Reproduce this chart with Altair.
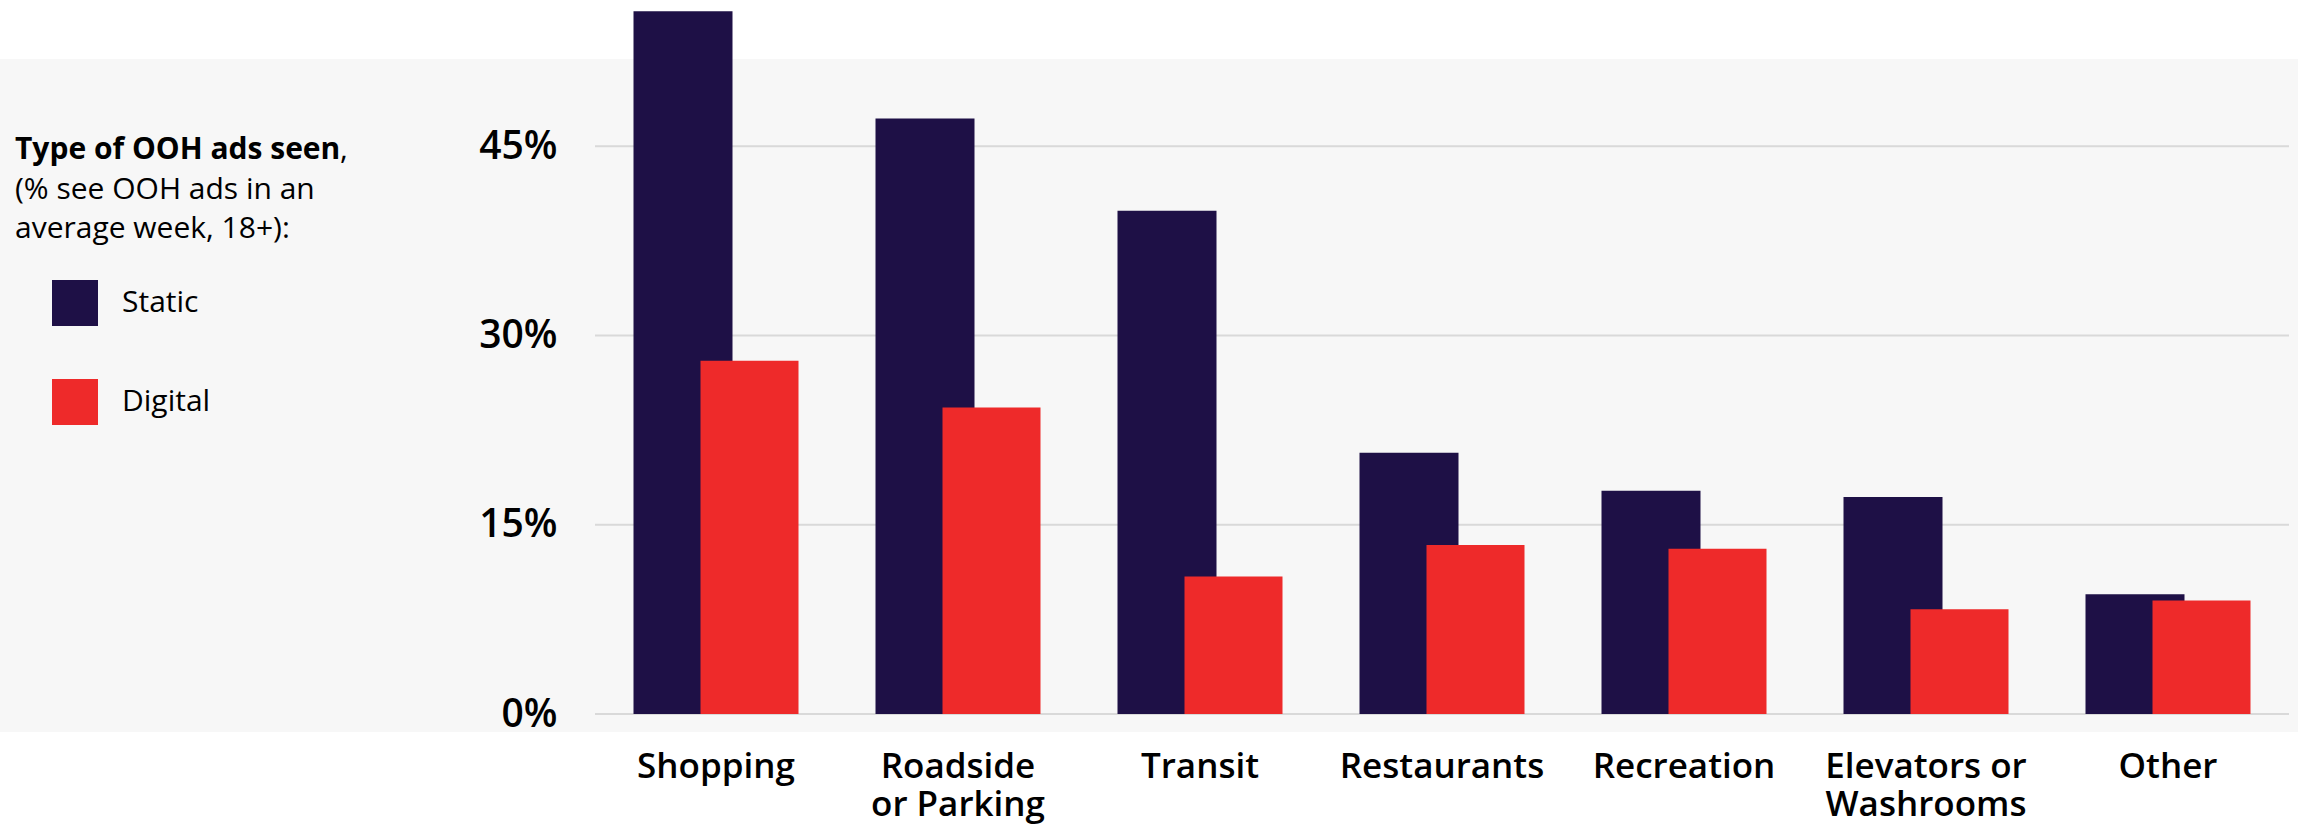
import altair as alt
import pandas as pd

categories = ["Shopping", "Roadside|or Parking", "Transit", "Restaurants",
              "Recreation", "Elevators or|Washrooms", "Other"]
static_vals = [55.7, 47.2, 39.9, 20.7, 17.7, 17.2, 9.5]
digital_vals = [28.0, 24.3, 10.9, 13.4, 13.1, 8.3, 9.0]
series = ["Static", "Digital"]
colors = ["#1E1046", "#EE2A2A"]
y_ticks = [0, 15, 30, 45]
title_bold = "Type of OOH ads seen"
title_lines = ["(% see OOH ads in an", "average week, 18+):"]

FONT = "Open Sans"
W, H = 1694, 714
LEFT = 595

rows = []
for c, s, d in zip(categories, static_vals, digital_vals):
    rows.append({"category": c, "type": "Static", "value": s})
    rows.append({"category": c, "type": "Digital", "value": d})
df = pd.DataFrame(rows)
ticks_df = pd.DataFrame({"value": y_ticks})

yscale = alt.Scale(domain=[0, 56.6], nice=False, zero=True)
xscale = alt.Scale(domain=categories, paddingInner=0, paddingOuter=0)
cscale = alt.Scale(domain=series, range=colors)

yaxis = alt.Axis(values=y_ticks, title=None, grid=False, domain=False,
                 ticks=False, labelExpr="datum.value + '%'",
                 labelFontSize=39, labelFontWeight=600, labelFont=FONT,
                 labelColor="#000000", labelPadding=38, zindex=1)

bg = alt.Chart(pd.DataFrame({"a": [0]})).mark_rect(color="#F7F7F7").encode(
    x=alt.value(-LEFT), x2=alt.value(W + 20), y=alt.value(59), y2=alt.value(732)
)

grid = alt.Chart(ticks_df).mark_rule(color="#D9D9D9", strokeWidth=2).encode(
    y=alt.Y("value:Q", scale=yscale, axis=yaxis),
    x=alt.value(0), x2=alt.value(W)
)

legend = alt.Legend(orient="none", legendX=52 - LEFT, legendY=280, title=None,
                    symbolType="square", symbolSize=2116, symbolStrokeWidth=0,
                    symbolOpacity=1, labelFontSize=30, labelFont=FONT,
                    labelColor="#000000", labelOffset=24, rowPadding=53,
                    padding=0, direction="vertical", zindex=1)

def bars(kind, width, offset):
    return alt.Chart(df).transform_filter(alt.datum.type == kind).mark_bar(
        width=width, xOffset=offset
    ).encode(
        x=alt.X("category:N", sort=categories, scale=xscale,
                axis=alt.Axis(title=None, labelAngle=0, domain=False, ticks=False,
                              labelExpr="split(datum.label, '|')",
                              labelFontSize=35, labelFontWeight=600, labelFont=FONT,
                              labelColor="#000000", labelPadding=35,
                              labelLineHeight=38, labelLimit=400)),
        y=alt.Y("value:Q", scale=yscale, axis=yaxis),
        color=alt.Color("type:N", scale=cscale, legend=legend),
    )

static_bars = bars("Static", 99, -33)
digital_bars = bars("Digital", 98, 33.5)

tdf = pd.DataFrame({"t": [0]})
t1 = alt.Chart(tdf).mark_text(text=title_bold, align="left", baseline="alphabetic",
                              font=FONT, fontSize=30, fontWeight="bold",
                              color="#000000").encode(
    x=alt.value(15 - LEFT), y=alt.value(159))
t1c = alt.Chart(tdf).mark_text(text=",", align="left", baseline="alphabetic",
                               font=FONT, fontSize=30, color="#000000").encode(
    x=alt.value(340 - LEFT), y=alt.value(159))
t2 = alt.Chart(tdf).mark_text(text=title_lines[0], align="left", baseline="alphabetic",
                              font=FONT, fontSize=30, color="#000000").encode(
    x=alt.value(15 - LEFT), y=alt.value(199))
t3 = alt.Chart(tdf).mark_text(text=title_lines[1], align="left", baseline="alphabetic",
                              font=FONT, fontSize=30, color="#000000").encode(
    x=alt.value(15 - LEFT), y=alt.value(238))

chart = alt.layer(bg, grid, static_bars, digital_bars, t1, t1c, t2, t3).properties(
    width=W, height=H,
    autosize=alt.AutoSizeParams(type="none"),
    padding={"left": LEFT, "top": 0, "right": 2298 - LEFT - W, "bottom": 831 - H},
    background="#FFFFFF",
).configure_view(stroke=None)

chart.save("out.html", embed_options={"renderer": "svg", "actions": False})
